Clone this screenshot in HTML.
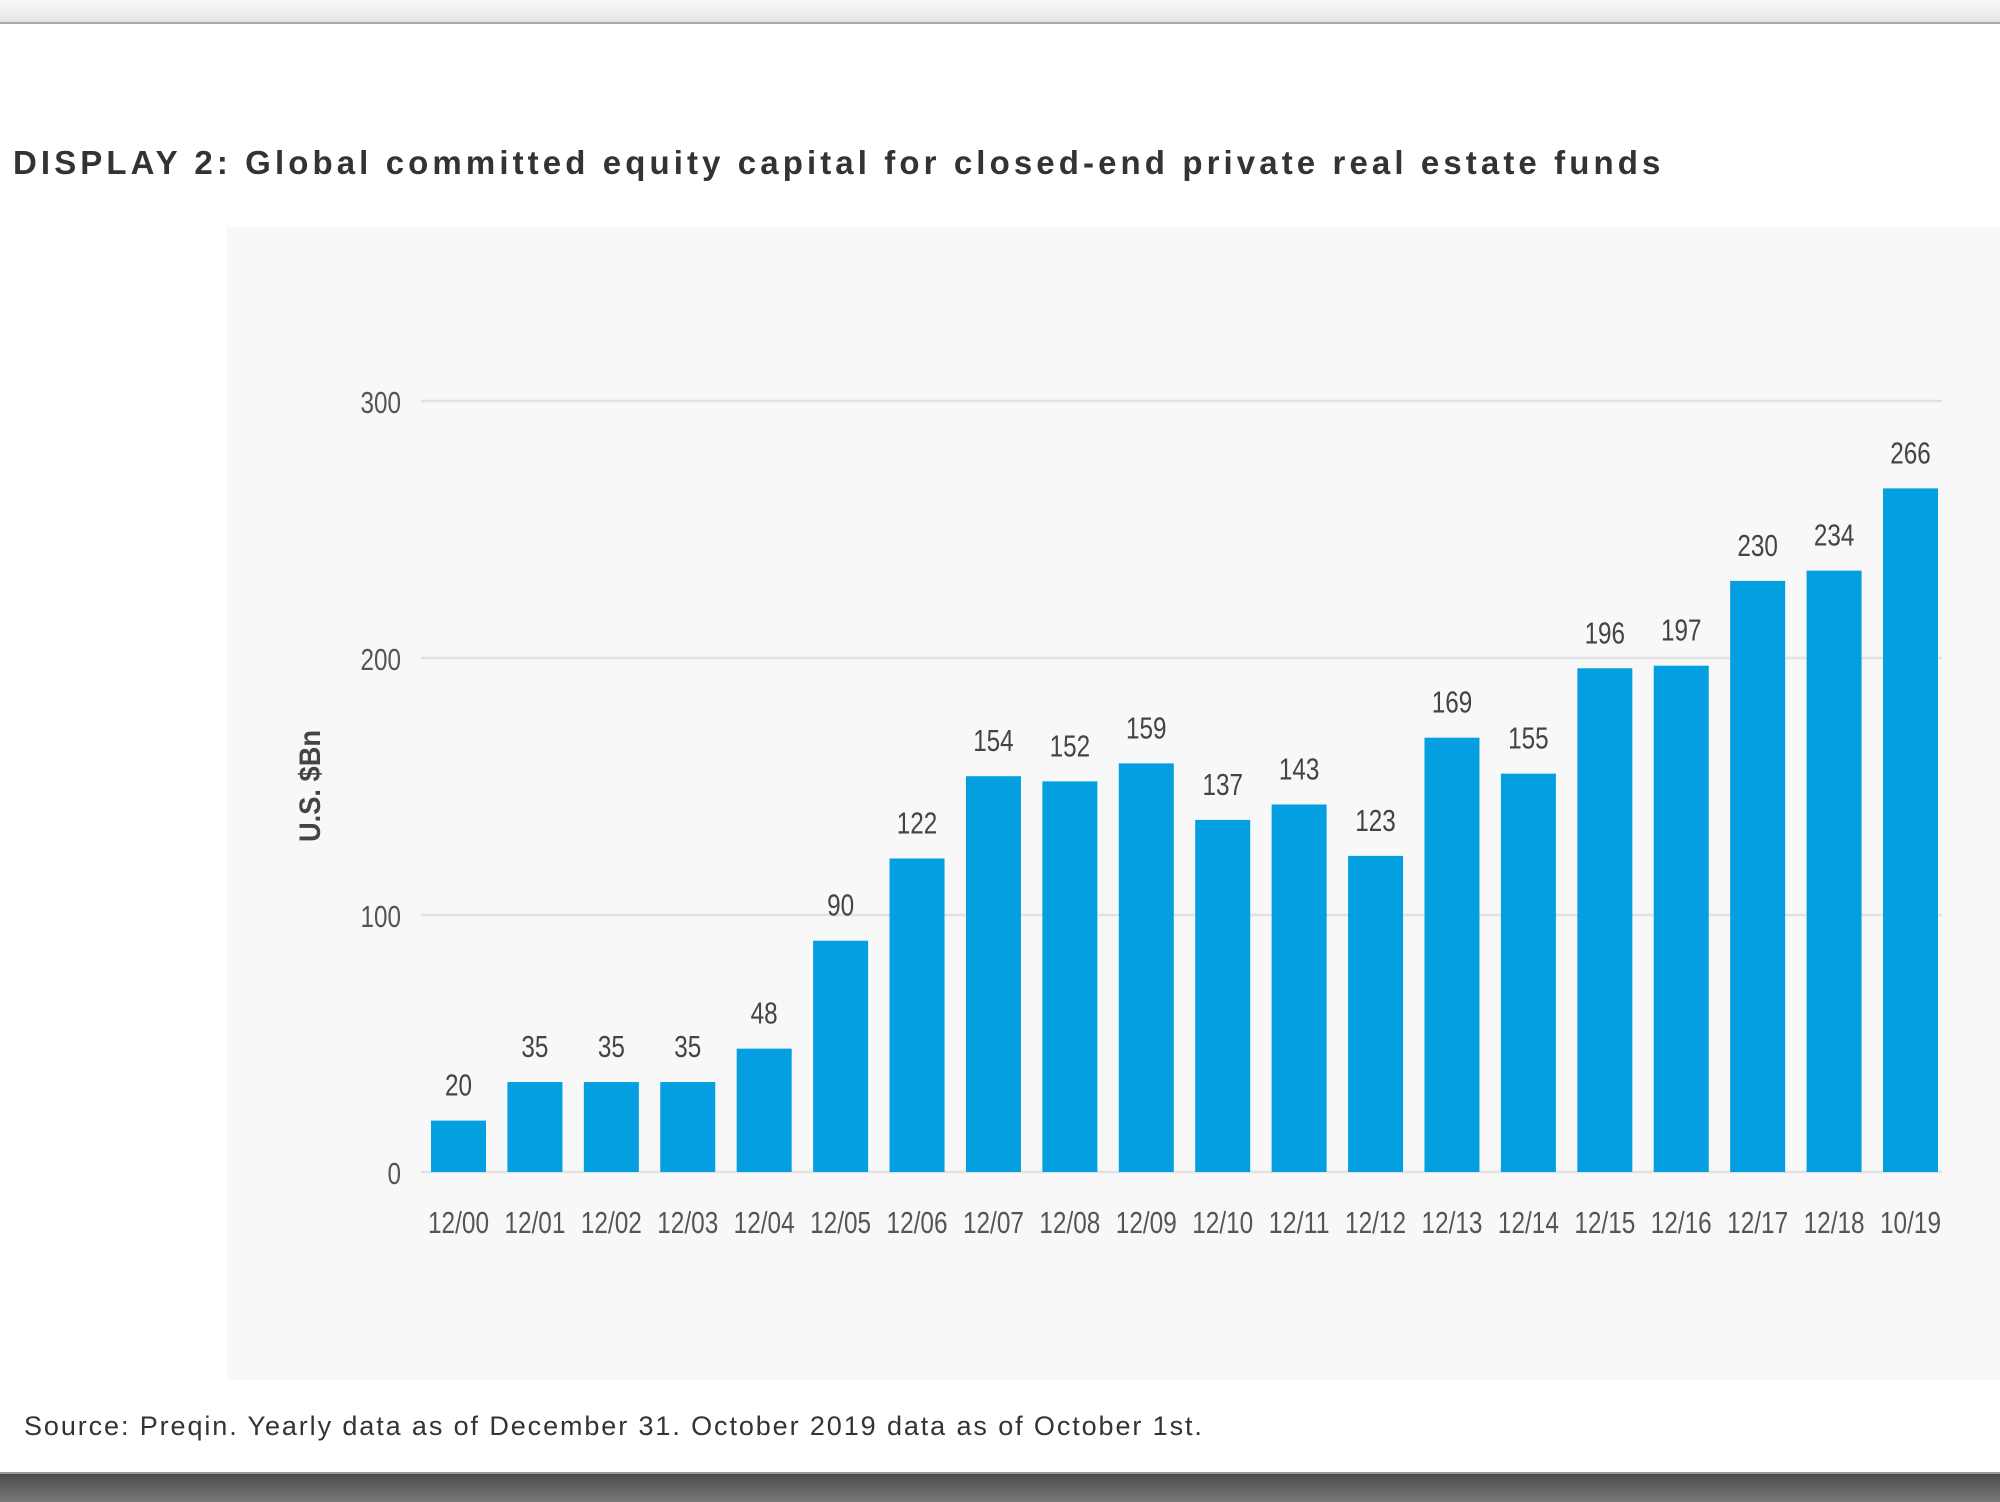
<!DOCTYPE html>
<html><head><meta charset="utf-8"><style>
html,body{margin:0;padding:0;background:#fff;}
body{width:2000px;height:1500px;position:relative;overflow:hidden;font-family:"Liberation Sans",sans-serif;}
</style></head><body>
<div style="position:absolute;left:0;top:0;width:2000px;height:22px;background:linear-gradient(#fafafa,#e4e4e4);border-bottom:2px solid #aaa;"></div>
<div style="position:absolute;left:13px;top:144px;font-size:33px;font-weight:bold;color:#333;letter-spacing:4.1px;white-space:nowrap;">DISPLAY 2: Global committed equity capital for closed-end private real estate funds</div>
<div style="position:absolute;left:227px;top:227px;width:1773px;height:1153px;background:#f8f8f8;"></div>
<svg id="chart" width="2000" height="1500" style="position:absolute;left:0;top:0;font-family:'Liberation Sans',sans-serif;"></svg>
<div style="position:absolute;left:24px;top:1411px;font-size:27px;color:#333;letter-spacing:1.9px;white-space:nowrap;">Source: Preqin. Yearly data as of December 31. October 2019 data as of October 1st.</div>
<div style="position:absolute;left:0;top:1472px;width:2000px;height:28px;background:linear-gradient(#4a4a4a,#7a7a7a);border-top:2px solid #999;"></div>
<script>
const categories=["12/00","12/01","12/02","12/03","12/04","12/05","12/06","12/07","12/08","12/09","12/10","12/11","12/12","12/13","12/14","12/15","12/16","12/17","12/18","10/19"];
const values=[20,35,35,35,48,90,122,154,152,159,137,143,123,169,155,196,197,230,234,266];
const yTicks=[0,100,200,300];
const NS="http://www.w3.org/2000/svg";
const svg=document.getElementById('chart');
const y0=1172,yScale=(1172-401)/300;
const y=v=>y0-v*yScale;
const x0=431,pitch=(1883-431)/19,bw=55;
const x=i=>x0+i*pitch;
function mk(t,a){const e=document.createElementNS(NS,t);for(const k in a)e.setAttribute(k,a[k]);svg.appendChild(e);return e;}
yTicks.forEach(t=>{
  const l=mk('line',{x1:421,x2:1942,y1:y(t),y2:y(t),stroke:'#e2e2e2','stroke-width':2.5});
  
  
  const s=String(t);
  const tx=mk('text',{x:401,y:y(t)+12,'text-anchor':'end','font-size':31,fill:'#555',textLength:s.length*13.5,lengthAdjust:'spacingAndGlyphs'});
  tx.textContent=s;
  
  
});
categories.forEach((c,i)=>{
  const r=mk('rect',{x:x(i),y:y(values[i]),width:bw,height:values[i]*yScale,fill:'#039fe0'});
  
  
  const s=String(values[i]);
  const v=mk('text',{x:x(i)+bw/2,y:y(values[i])-25,'text-anchor':'middle','font-size':31,fill:'#444',textLength:s.length*13.5,lengthAdjust:'spacingAndGlyphs'});
  v.textContent=s;
  
  
  const cl=mk('text',{x:x(i)+bw/2,y:1233,'text-anchor':'middle','font-size':31,fill:'#555',textLength:61,lengthAdjust:'spacingAndGlyphs'});
  cl.textContent=c;
  
  
});
const yt=mk('text',{x:0,y:0,transform:'translate(320,786) rotate(-90)','text-anchor':'middle','font-size':30,fill:'#444','font-weight':'bold',textLength:112,lengthAdjust:'spacingAndGlyphs'});
yt.textContent='U.S. $Bn';


</script>
</body></html>
